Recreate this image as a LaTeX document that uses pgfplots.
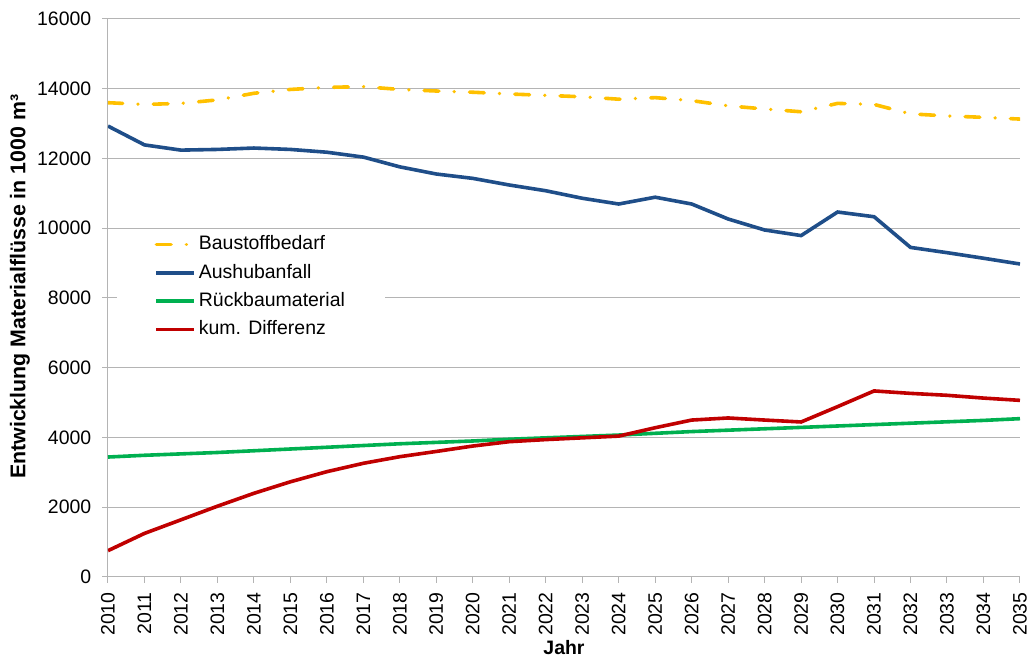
\documentclass[border=0pt]{standalone}
\usepackage{fontspec}
\setmainfont{Liberation Sans}
\usepackage{pgfplots}
\pgfplotsset{compat=1.18}

\definecolor{cYel}{HTML}{FFC000}
\definecolor{cBlu}{HTML}{1F4E89}
\definecolor{cGrn}{HTML}{00B050}
\definecolor{cRed}{HTML}{C00000}
\definecolor{cGrid}{HTML}{B4B4B4}
\newcommand\fs{\fontsize{14.6}{17.5}\selectfont}

% Werte (1000 m^3)
\pgfplotstableread{
jahr bedarf aushub rueckbau diff
2010 13600 12930 3440 755
2011 13550 12390 3490 1250
2012 13580 12240 3530 1640
2013 13680 12260 3570 2030
2014 13870 12300 3620 2400
2015 13980 12260 3670 2730
2016 14040 12180 3720 3020
2017 14060 12040 3770 3260
2018 13980 11760 3820 3450
2019 13935 11555 3860 3600
2020 13900 11430 3900 3755
2021 13850 11240 3950 3880
2022 13810 11075 3990 3940
2023 13770 10860 4030 3990
2024 13700 10695 4070 4040
2025 13745 10890 4120 4280
2026 13660 10695 4170 4500
2027 13510 10265 4210 4560
2028 13420 9950 4250 4500
2029 13340 9790 4290 4445
2030 13580 10465 4330 4885
2031 13550 10330 4370 5335
2032 13280 9450 4410 5265
2033 13220 9300 4450 5210
2034 13180 9140 4490 5130
2035 13130 8975 4540 5065
}\daten

\begin{document}
\begin{tikzpicture}
\begin{axis}[
    scale only axis,
    width=684pt, height=418.5pt,
    xmin=2010, xmax=2035,
    ymin=0, ymax=16000,
    xtick={2010,...,2035},
    ytick={0,2000,...,16000},
    scaled y ticks=false,
    axis x line*=bottom,
    axis y line*=left,
    axis line style={cGrid, line width=0.75pt},
    tick style={cGrid, line width=0.75pt},
    major tick length=4.5pt,
    tick align=outside,
    ymajorgrids,
    grid style={cGrid, line width=0.75pt},
    /pgf/number format/1000 sep={},
    /pgf/number format/assume math mode=true,
    ticklabel style={font=\fs},
    xticklabel style={rotate=90, anchor=east, xshift=-3.5pt},
    yticklabel style={xshift=-4.5pt},
    xlabel={\textbf{Jahr}},
    ylabel={\textbf{Entwicklung Materialflüsse in 1000 m³}},
    xlabel style={font=\fs, at={(axis description cs:0.5,-0.127)}, anchor=center},
    ylabel style={font=\fontsize{16}{19}\selectfont, at={(axis description cs:-0.0965,0.52)}, anchor=center},
    legend cell align=left,
    legend image code/.code={\draw[#1] (0pt,0pt) -- (28.5pt,0pt);},
    legend style={at={(axis description cs:0.0099,0.618)}, anchor=north west,
        draw=none, fill=white, font=\fs, inner xsep=28pt, inner ysep=2pt,
        row sep=7.25pt,
        nodes={inner xsep=2pt, inner ysep=0pt, text height=11pt, text depth=3pt}},
]
\addplot[cYel, line width=2.7pt, line cap=round,
    dash pattern=on 11pt off 11.5pt on 0.01pt off 11.5pt] table[x=jahr, y=bedarf] {\daten};
\addlegendentry{Baustoffbedarf}
\addplot[cBlu, line width=2.7pt] table[x=jahr, y=aushub] {\daten};
\addlegendentry{Aushubanfall}
\addplot[cGrn, line width=2.7pt] table[x=jahr, y=rueckbau] {\daten};
\addlegendentry{Rückbaumaterial}
\addplot[cRed, line width=2.7pt] table[x=jahr, y=diff] {\daten};
\addlegendentry{kum. Differenz}
\end{axis}
\pgfresetboundingbox
\path ([xshift=-81pt, yshift=-60pt]current axis.south west) rectangle ([xshift=6.75pt, yshift=14.25pt]current axis.north east);
\end{tikzpicture}
\end{document}
